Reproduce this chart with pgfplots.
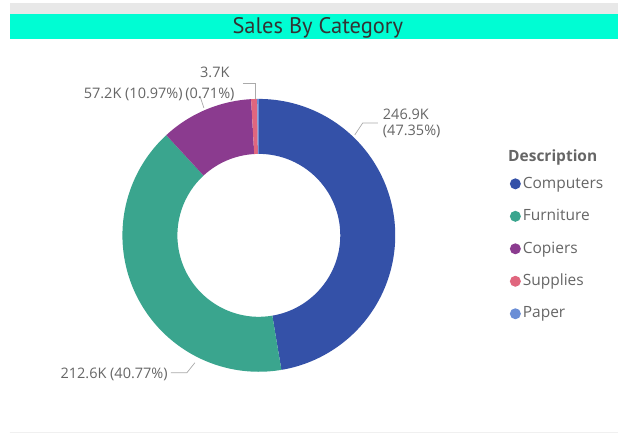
\documentclass[border=0pt]{standalone}
\usepackage{pgfplots}
\pgfplotsset{compat=1.18}
\usepackage{pgfplotstable}
\usepackage{fontspec}
\setmainfont{Open Sans}
\newfontfamily\titlefont{PT Sans}
\definecolor{cComp}{HTML}{3451A8}
\definecolor{cFurn}{HTML}{3AA58E}
\definecolor{cCop}{HTML}{8B3B8F}
\definecolor{cSup}{HTML}{E0667E}
\definecolor{cPap}{HTML}{6B8ED6}
\definecolor{titlebg}{HTML}{00FDD3}
\definecolor{topgray}{HTML}{E8E8E8}
\definecolor{lbl}{HTML}{666666}
\definecolor{leader}{HTML}{AAAAAA}

\pgfplotstableread{
name value
Computers 246.9
Furniture 212.6
Copiers 57.2
Supplies 3.7
Paper 1.0
}\salestable

\newcommand\ringwedge[3]{%
  \addplot[fill=#3, draw=none, domain=#1:#2, samples=120, variable=\t]
    ({259+136.5*cos(\t)},{198.5+136.5*sin(\t)})
    -- (axis cs:{259+81.5*cos(#2)},{198.5+81.5*sin(#2)})
    arc[start angle=#2, end angle=#1, radius=81.5pt] -- cycle;}

\begin{document}
\begin{tikzpicture}
\pgfplotstablegetelem{0}{value}\of\salestable \let\vA\pgfplotsretval
\pgfplotstablegetelem{1}{value}\of\salestable \let\vB\pgfplotsretval
\pgfplotstablegetelem{2}{value}\of\salestable \let\vC\pgfplotsretval
\pgfplotstablegetelem{3}{value}\of\salestable \let\vD\pgfplotsretval
\pgfplotstablegetelem{4}{value}\of\salestable \let\vE\pgfplotsretval
\pgfmathsetmacro\tot{\vA+\vB+\vC+\vD+\vE}
\pgfmathsetmacro\aA{90}
\pgfmathsetmacro\aB{\aA-360*(\vA/\tot)}
\pgfmathsetmacro\aC{\aB-360*(\vB/\tot)}
\pgfmathsetmacro\aD{\aC-360*(\vC/\tot)}
\pgfmathsetmacro\aE{\aD-360*(\vD/\tot)}
\pgfmathsetmacro\aF{\aE-360*(\vE/\tot)}
\begin{axis}[
  scale only axis, width=618pt, height=434pt,
  xmin=0, xmax=618, ymin=0, ymax=434,
  axis lines=none, clip=false,
  legend style={at={(axis cs:507,260)}, anchor=north west, draw=none, fill=none,
    font=\fontsize{15.5}{18}\selectfont\color{lbl},
    nodes={inner sep=0pt, text height=12pt, text depth=3.5pt},
    row sep=17pt, column sep=2pt},
  legend cell align=left,
  legend image code/.code={\fill[#1] (5pt,0pt) circle (5.5pt);},
]
% background bands
\fill[white] (axis cs:0,0) rectangle (axis cs:618,434);
\fill[topgray] (axis cs:10,420) rectangle (axis cs:618,431);
\fill[titlebg] (axis cs:10,395) rectangle (axis cs:618,420);
\node[anchor=base, text=black!80, font=\titlefont\fontsize{22.5}{24}\selectfont]
  at (axis cs:318,400) {Sales By Category};
\draw[black!6, line width=0.8pt] (axis cs:10,1) -- (axis cs:618,1);

% donut wedges
\ringwedge{\aB}{\aA}{cComp}
\addlegendentry{Computers}
\ringwedge{\aC}{\aB}{cFurn}
\addlegendentry{Furniture}
\ringwedge{\aD}{\aC}{cCop}
\addlegendentry{Copiers}
\ringwedge{\aE}{\aD}{cSup}
\addlegendentry{Supplies}
\ringwedge{\aF}{\aE}{cPap}
\addlegendentry{Paper}

% legend title
\node[anchor=base west, text=lbl, font=\bfseries\fontsize{15.5}{18}\selectfont]
  at (axis cs:505,272) {Description};

% leader lines
\draw[leader, line width=0.7pt] (axis cs:355,299) -- (axis cs:363,311) -- (axis cs:378,311);
\draw[leader, line width=0.7pt] (axis cs:195,71) -- (axis cs:187,61) -- (axis cs:171,61);
\draw[leader, line width=0.7pt] (axis cs:204,326) -- (axis cs:200,338);
\draw[leader, line width=0.7pt] (axis cs:243,351) -- (axis cs:256,351) -- (axis cs:256,335);

% labels
\begin{scope}[every node/.style={text=lbl, font=\fontsize{14.5}{16.5}\selectfont, inner sep=0pt}]
\node[anchor=base west, align=left] at (axis cs:383,314) {246.9K};
\node[anchor=base west, align=left] at (axis cs:383,298) {(47.35\%)};
\node[anchor=base east] at (axis cs:168,55) {212.6K (40.77\%)};
\node[anchor=base east] at (axis cs:183,335) {57.2K (10.97\%)};
\node[anchor=base] at (axis cs:215,356) {3.7K};
\node[anchor=base] at (axis cs:210,335) {(0.71\%)};
\end{scope}
\end{axis}
\end{tikzpicture}
\end{document}
